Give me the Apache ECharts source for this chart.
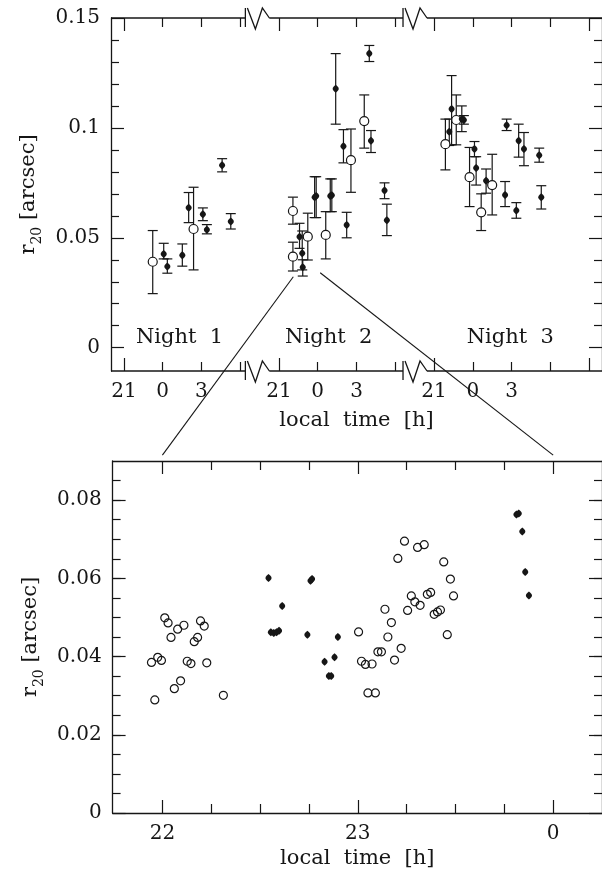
<!DOCTYPE html>
<html>
<head>
<meta charset="utf-8">
<title>r20 against local time</title>
<script src="https://cdn.jsdelivr.net/npm/echarts@6.0.0/dist/echarts.min.js"></script>
<style>
  html, body { margin: 0; padding: 0; background: #fff; }
  #chart { width: 602px; height: 876px; }
</style>
</head>
<body>
<div id="chart"></div>
<script>
// ---------------- data ----------------
// Upper panel rows: [local hour relative to midnight, r20, lower error, upper error]
const night1Filled = [
  [0.08, 0.0426, 0.0404, 0.0475],
  [0.36, 0.0369, 0.0339, 0.0404],
  [1.52, 0.0421, 0.0371, 0.0472],
  [2.01, 0.0637, 0.0569, 0.0706],
  [3.11, 0.0607, 0.0578, 0.0636],
  [3.42, 0.0537, 0.0518, 0.0560],
  [4.60, 0.0830, 0.0800, 0.0860],
  [5.27, 0.0574, 0.0540, 0.0610]
];
const night1Open = [
  [-0.77, 0.0391, 0.0246, 0.0533],
  [2.39, 0.0540, 0.0354, 0.0730]
];
const night2Filled = [
  [-1.41, 0.0505, 0.0452, 0.0566],
  [-1.20, 0.0430, 0.0354, 0.0531],
  [-1.16, 0.0366, 0.0326, 0.0400],
  [-0.24, 0.0685, 0.0592, 0.0778],
  [-0.12, 0.0690, 0.0592, 0.0778],
  [0.97, 0.0690, 0.0619, 0.0768],
  [1.09, 0.0694, 0.0619, 0.0768],
  [1.39, 0.1178, 0.1017, 0.1338],
  [1.99, 0.0917, 0.0841, 0.0992],
  [2.24, 0.0558, 0.0500, 0.0616],
  [3.99, 0.1338, 0.1302, 0.1375],
  [4.12, 0.0941, 0.0888, 0.0988],
  [5.17, 0.0715, 0.0678, 0.0750],
  [5.35, 0.0580, 0.0510, 0.0653]
];
const night2Open = [
  [-1.92, 0.0622, 0.0562, 0.0685],
  [-1.92, 0.0414, 0.0349, 0.0480],
  [-0.77, 0.0505, 0.0399, 0.0612],
  [0.62, 0.0513, 0.0404, 0.0619],
  [2.57, 0.0853, 0.0707, 0.0995],
  [3.60, 0.1031, 0.0908, 0.1150]
];
const night3Filled = [
  [-1.82, 0.0983, 0.0920, 0.1040],
  [-1.64, 0.1086, 0.0923, 0.1238],
  [-0.85, 0.1040, 0.0983, 0.1100],
  [-0.69, 0.1036, 0.1017, 0.1056],
  [0.13, 0.0904, 0.0869, 0.0938],
  [0.26, 0.0817, 0.0740, 0.0869],
  [1.03, 0.0759, 0.0703, 0.0813],
  [2.50, 0.0695, 0.0642, 0.0756],
  [2.62, 0.1012, 0.0988, 0.1040],
  [3.37, 0.0624, 0.0589, 0.0660],
  [3.55, 0.0941, 0.0867, 0.1017],
  [3.96, 0.0904, 0.0828, 0.0979],
  [5.14, 0.0876, 0.0844, 0.0908],
  [5.30, 0.0685, 0.0631, 0.0737]
];
const night3Open = [
  [-2.12, 0.0926, 0.0809, 0.1040],
  [-1.28, 0.1036, 0.0923, 0.1150],
  [-0.25, 0.0776, 0.0642, 0.0911],
  [0.65, 0.0616, 0.0533, 0.0700],
  [1.50, 0.0740, 0.0604, 0.0880]
];

// Lower panel rows (night 2, 21:45 - 00:15): [local time in hours, r20]
const zoomOpen = [
  [22.012, 0.0499], [22.029, 0.0486], [22.110, 0.0480], [22.078, 0.0470],
  [22.044, 0.0449], [22.195, 0.0491], [22.214, 0.0478], [22.180, 0.0449],
  [22.163, 0.0438], [21.976, 0.0398], [21.944, 0.0385], [21.995, 0.0390],
  [22.127, 0.0388], [22.146, 0.0382], [22.227, 0.0384], [22.093, 0.0338],
  [22.061, 0.0318], [21.961, 0.0289], [22.312, 0.0301],
  [23.004, 0.0463], [23.239, 0.0695], [23.306, 0.0679], [23.205, 0.0651],
  [23.274, 0.0555], [23.292, 0.0540], [23.319, 0.0531], [23.139, 0.0521],
  [23.255, 0.0518], [23.172, 0.0487], [23.154, 0.0450], [23.222, 0.0421],
  [23.103, 0.0412], [23.121, 0.0412], [23.019, 0.0388], [23.039, 0.0380],
  [23.073, 0.0381], [23.188, 0.0391], [23.052, 0.0307], [23.090, 0.0307],
  [23.340, 0.0686], [23.440, 0.0642], [23.474, 0.0598], [23.373, 0.0564],
  [23.356, 0.0559], [23.490, 0.0555], [23.423, 0.0519], [23.408, 0.0514],
  [23.391, 0.0508], [23.458, 0.0456]
];
const zoomFilled = [
  [22.543, 0.0601], [22.758, 0.0594], [22.766, 0.0598], [22.613, 0.0529],
  [22.555, 0.0462], [22.570, 0.0460], [22.584, 0.0462], [22.597, 0.0466],
  [22.742, 0.0456], [22.898, 0.0450], [22.830, 0.0387], [22.881, 0.0398],
  [22.852, 0.0350], [22.864, 0.0350], [23.812, 0.0763], [23.824, 0.0766],
  [23.842, 0.0720], [23.857, 0.0616], [23.876, 0.0556]
];

// Axis layout of the folded upper time axis: position of midnight for each night
const nightMidnight = [4, 16, 28];
const nightNames = ['Night  1', 'Night  2', 'Night  3'];
const upperTickHours = [0, 3, 6];
const upperLabelHours = [-3, 0, 3];
const upperYLabels = [0, 0.05, 0.1, 0.15];
const lowerXLabels = [22, 23, 24];
const lowerYLabels = [0, 0.02, 0.04, 0.06, 0.08];

// ---------------- styling ----------------
const INK = '#161616';
const FONT = 'DejaVu Serif';
const U_MIN = 0, U_MAX = 38;
const Y1_MIN = -0.0106, Y1_MAX = 0.15;
const X2_MIN = 21.745, X2_MAX = 24.25;
const Y2_MIN = 0, Y2_MAX = 0.09;

const lemon = 'path://M0,-10 C6,-6 8,-3 8,0 C8,3 6,6 0,10 C-6,6 -8,3 -8,0 C-8,-3 -6,-6 0,-10 Z';

function fold(night, rows) {
  return rows.map(r => [nightMidnight[night] + r[0], r[1], r[2], r[3]]);
}
const upperFilled = [].concat(fold(0, night1Filled), fold(1, night2Filled), fold(2, night3Filled));
const upperOpen = [].concat(fold(0, night1Open), fold(1, night2Open), fold(2, night3Open));

const upperMinor = [], upperMajor = [], upperLabels = [];
nightMidnight.forEach(m => {
  upperTickHours.forEach(h => upperMinor.push(m + h));
  upperMajor.push(m - 3);
  upperLabelHours.forEach(h => upperLabels.push(m + h));
});
upperMajor.push(nightMidnight[2] + 9);

function hourOf(u) {
  let best = 0;
  nightMidnight.forEach((m, i) => { if (Math.abs(u - m) < Math.abs(u - nightMidnight[best])) best = i; });
  const h = Math.round(u - nightMidnight[best]);
  return String(((h % 24) + 24) % 24);
}

const range = (a, b, step) => { const out = []; for (let k = Math.round(a / step); k * step <= b + 1e-9; k++) out.push(+(k * step).toFixed(4)); return out; };
const y1Minor = range(0.01, 0.14, 0.01).filter(v => Math.abs(v / 0.05 - Math.round(v / 0.05)) > 1e-6);
const y2Minor = range(0.005, 0.085, 0.005);
const x2Minor = range(22.25, 24, 0.25).filter(v => Math.abs(v - Math.round(v)) > 1e-6);

const tickStyle = { color: INK, width: 1.2 };
const labelStyle = { color: INK, fontFamily: FONT, fontSize: 20 };

function xAxis(grid, pos, min, max, ticks, len, label, lineShow) {
  return {
    type: 'value', gridIndex: grid, position: pos, min: min, max: max,
    axisLine: { show: !!lineShow, onZero: false, lineStyle: { color: INK, width: 1.3 } },
    splitLine: { show: false },
    axisTick: { show: true, inside: true, length: len, customValues: ticks, lineStyle: tickStyle },
    axisLabel: label ? Object.assign({ show: true, customValues: label.values, formatter: label.fmt, margin: 11 }, labelStyle) : { show: false }
  };
}
function yAxis(grid, pos, min, max, ticks, len, label, lineShow) {
  return {
    type: 'value', gridIndex: grid, position: pos, min: min, max: max,
    axisLine: { show: !!lineShow, onZero: false, lineStyle: { color: INK, width: 1.3 } },
    splitLine: { show: false },
    axisTick: { show: true, inside: true, length: len, customValues: ticks, lineStyle: tickStyle },
    axisLabel: label ? Object.assign({ show: true, customValues: label.values, formatter: label.fmt, margin: 11 }, labelStyle) : { show: false }
  };
}
const numFmt = v => String(+(+v).toFixed(3));

const xAxes = [
  xAxis(0, 'bottom', U_MIN, U_MAX, upperMinor, 9, { values: upperLabels, fmt: hourOf }),
  xAxis(0, 'bottom', U_MIN, U_MAX, upperMajor, 13),
  xAxis(0, 'top', U_MIN, U_MAX, upperMinor, 9),
  xAxis(0, 'top', U_MIN, U_MAX, upperMajor, 13),
  xAxis(1, 'bottom', X2_MIN, X2_MAX, x2Minor, 9, { values: lowerXLabels, fmt: v => String(Math.round(v) % 24) }, true),
  xAxis(1, 'bottom', X2_MIN, X2_MAX, lowerXLabels, 13),
  xAxis(1, 'top', X2_MIN, X2_MAX, x2Minor, 9, null, true),
  xAxis(1, 'top', X2_MIN, X2_MAX, lowerXLabels, 13)
];
const titleStyle = {
  color: INK, fontFamily: FONT, fontSize: 21,
  rich: {
    n: { fontFamily: FONT, fontSize: 21, color: INK, lineHeight: 22 },
    s: { fontFamily: FONT, fontSize: 14, color: INK, lineHeight: 32, verticalAlign: 'bottom' }
  }
};
xAxes[0].name = 'local  time  [h]';
xAxes[4].name = 'local  time  [h]';
[0, 4].forEach((i, k) => Object.assign(xAxes[i], {
  nameLocation: 'middle', nameGap: k === 0 ? 39 : 35,
  nameTextStyle: { color: INK, fontFamily: FONT, fontSize: 21 }
}));

const yAxes = [
  yAxis(0, 'left', Y1_MIN, Y1_MAX, y1Minor, 8, { values: upperYLabels, fmt: numFmt }, true),
  yAxis(0, 'left', Y1_MIN, Y1_MAX, upperYLabels, 13),
  yAxis(0, 'right', Y1_MIN, Y1_MAX, y1Minor, 8, null, true),
  yAxis(0, 'right', Y1_MIN, Y1_MAX, upperYLabels, 13),
  yAxis(1, 'left', Y2_MIN, Y2_MAX, y2Minor, 8, { values: lowerYLabels, fmt: numFmt }, true),
  yAxis(1, 'left', Y2_MIN, Y2_MAX, lowerYLabels, 13),
  yAxis(1, 'right', Y2_MIN, Y2_MAX, y2Minor, 8, null, true),
  yAxis(1, 'right', Y2_MIN, Y2_MAX, lowerYLabels, 13)
];
[0, 4].forEach(i => Object.assign(yAxes[i], {
  name: '{n|r}{s|20}{n| [arcsec]}', nameLocation: 'middle', nameRotate: 90, nameGap: 62,
  nameTextStyle: titleStyle
}));

function errorBars(params, api) {
  const u = api.value(0);
  const lo = api.coord([u, api.value(2)]);
  const hi = api.coord([u, api.value(3)]);
  const cap = 5;
  const st = { stroke: INK, lineWidth: 1.2 };
  return {
    type: 'group',
    children: [
      { type: 'line', shape: { x1: lo[0], y1: lo[1], x2: hi[0], y2: hi[1] }, style: st },
      { type: 'line', shape: { x1: lo[0] - cap, y1: lo[1], x2: lo[0] + cap, y2: lo[1] }, style: st },
      { type: 'line', shape: { x1: hi[0] - cap, y1: hi[1], x2: hi[0] + cap, y2: hi[1] }, style: st }
    ]
  };
}

const chart = echarts.init(document.getElementById('chart'), null, { renderer: 'canvas' });
chart.setOption({
  animation: false,
  backgroundColor: '#fff',
  grid: [
    { left: 111, top: 18, width: 493, height: 353 },
    { left: 112.6, top: 461, width: 491.7, height: 352 }
  ],
  xAxis: xAxes,
  yAxis: yAxes,
  series: [
    { type: 'custom', xAxisIndex: 0, yAxisIndex: 0, renderItem: errorBars,
      data: upperFilled.concat(upperOpen), encode: { x: 0, y: [2, 3] }, z: 2 },
    { type: 'scatter', xAxisIndex: 0, yAxisIndex: 0, symbol: 'circle', symbolSize: 9,
      itemStyle: { color: '#fff', borderColor: INK, borderWidth: 1.2, opacity: 1 },
      data: upperOpen.map(r => [r[0], r[1]]), z: 3 },
    { type: 'scatter', xAxisIndex: 0, yAxisIndex: 0, symbol: lemon, symbolSize: [6, 8],
      itemStyle: { color: INK, opacity: 1 },
      data: upperFilled.map(r => [r[0], r[1]]), z: 4 },
    { type: 'scatter', xAxisIndex: 4, yAxisIndex: 4, symbol: 'circle', symbolSize: 8,
      itemStyle: { color: 'rgba(0,0,0,0)', borderColor: INK, borderWidth: 1.2, opacity: 1 },
      data: zoomOpen, z: 3 },
    { type: 'scatter', xAxisIndex: 4, yAxisIndex: 4, symbol: lemon, symbolSize: [6, 8],
      itemStyle: { color: INK, opacity: 1 },
      data: zoomFilled, z: 4 }
  ]
});

// Broken upper frame, night labels and the lines linking night 2 to the lower panel
(function decorate() {
  const X = u => chart.convertToPixel({ xAxisIndex: 0 }, u);
  const yTop = chart.convertToPixel({ yAxisIndex: 0 }, Y1_MAX);
  const yBot = chart.convertToPixel({ yAxisIndex: 0 }, Y1_MIN);
  const segments = [[U_MIN, 10.4], [12.25, 22.6], [24.45, U_MAX]];
  const breaks = [10.4, 22.6];
  const st = { stroke: INK, lineWidth: 1.3, fill: null };
  const els = [];
  [yTop, yBot].forEach(y => {
    segments.forEach(s => els.push({ type: 'line', shape: { x1: X(s[0]), y1: y, x2: X(s[1]), y2: y }, style: st }));
    breaks.forEach(b => {
      const xs = X(b);
      els.push({ type: 'line', shape: { x1: xs, y1: y - 10, x2: xs, y2: y + 9 }, style: st });
      els.push({ type: 'polyline', shape: { points: [[xs + 2, y - 10], [xs + 10, y + 11], [xs + 17, y - 10], [xs + 24, y]] }, style: st });
    });
  });
  nightNames.forEach((t, i) => {
    const p = chart.convertToPixel({ gridIndex: 0 }, [nightMidnight[i] + [1.3, 0.85, 2.9][i], 0.0044]);
    els.push({ type: 'text', x: p[0], y: p[1],
      style: { text: t, fill: INK, font: '21px "' + FONT + '"', align: 'center', verticalAlign: 'middle' } });
  });
  const a1 = chart.convertToPixel({ gridIndex: 0 }, [14.11, 0.0323]);
  const b1 = chart.convertToPixel({ gridIndex: 1 }, [22, 0.0915]);
  const a2 = chart.convertToPixel({ gridIndex: 0 }, [16.19, 0.0341]);
  const b2 = chart.convertToPixel({ gridIndex: 1 }, [24, 0.0915]);
  els.push({ type: 'line', shape: { x1: a1[0], y1: a1[1], x2: b1[0], y2: b1[1] }, style: { stroke: INK, lineWidth: 1.1 } });
  els.push({ type: 'line', shape: { x1: a2[0], y1: a2[1], x2: b2[0], y2: b2[1] }, style: { stroke: INK, lineWidth: 1.1 } });
  chart.setOption({ graphic: els.map(e => Object.assign({ silent: true, z: 10 }, e)) });
})();
</script>
</body>
</html>
